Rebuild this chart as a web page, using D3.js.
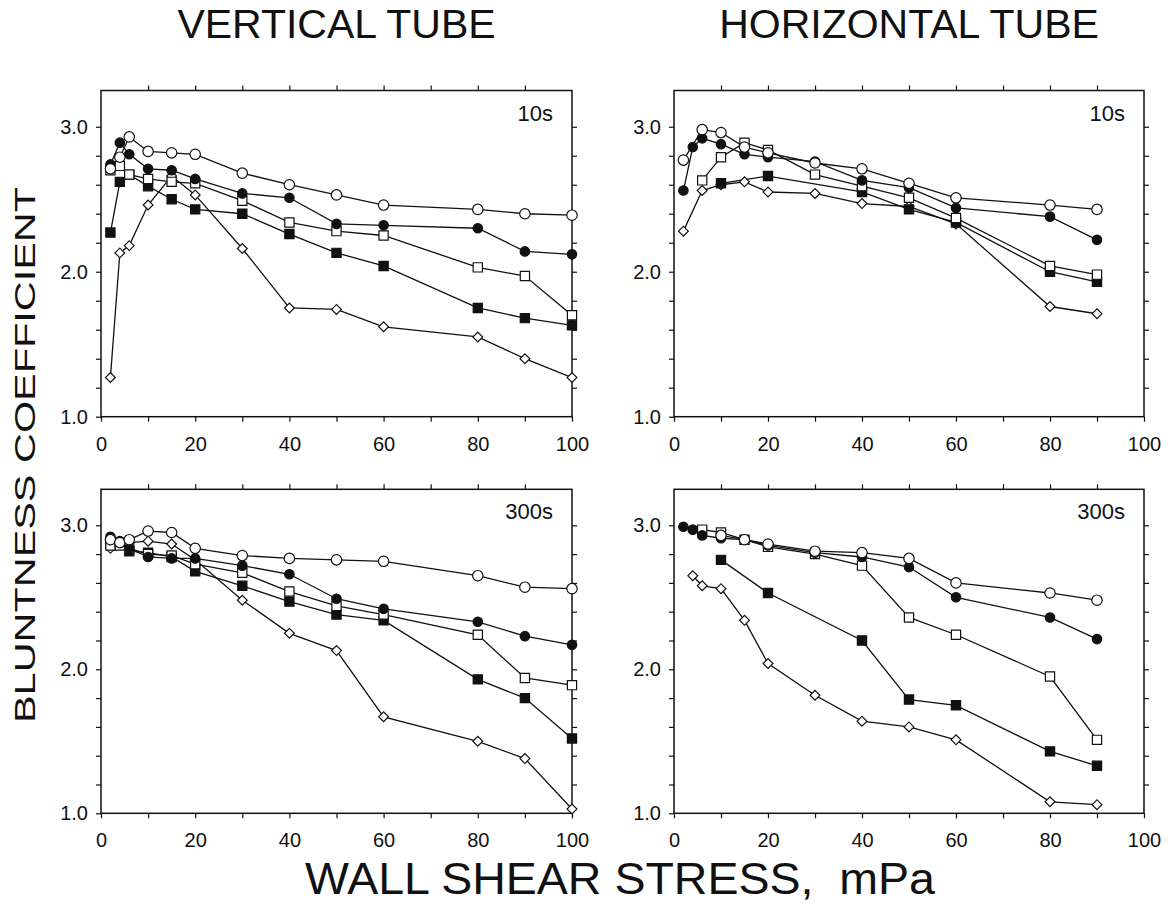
<!DOCTYPE html>
<html>
<head>
<meta charset="utf-8">
<script src="https://cdn.jsdelivr.net/npm/d3@7"></script>
<style>
  body { margin: 0; background: #fff; }
  text { font-family: "Liberation Sans", Arial, Helvetica, sans-serif; fill: #111; }
</style>
</head>
<body>
<div id="chart"></div>
<script>
// wall shear stress (mPa) where measurements were taken
const stress = [2, 4, 6, 10, 15, 20, 30, 40, 50, 60, 80, 90, 100]

// series names, one per marker
const seriesNames = ["openCircle", "filledCircle", "openSquare", "filledSquare", "openDiamond"]

// vertical tube, 10 s
const vert10OpenCircle   = [2.71, 2.79, 2.93, 2.83, 2.82, 2.81, 2.68, 2.60, 2.53, 2.46, 2.43, 2.40, 2.39]
const vert10FilledCircle = [2.74, 2.89, 2.81, 2.71, 2.70, 2.64, 2.54, 2.51, 2.33, 2.32, 2.30, 2.14, 2.12]
const vert10OpenSquare   = [2.70, 2.73, 2.67, 2.64, 2.62, 2.61, 2.49, 2.34, 2.28, 2.25, 2.03, 1.97, 1.70]
const vert10FilledSquare = [2.27, 2.62, 2.67, 2.59, 2.50, 2.43, 2.40, 2.26, 2.13, 2.04, 1.75, 1.68, 1.63]
const vert10OpenDiamond  = [1.27, 2.13, 2.18, 2.46, 2.66, 2.53, 2.16, 1.75, 1.74, 1.62, 1.55, 1.40, 1.27]

// horizontal tube, 10 s (null = no point there)
const horiz10OpenCircle   = [2.77, null, 2.98, 2.96, 2.86, 2.82, 2.75, 2.71, 2.61, 2.51, 2.46, 2.43, null]
const horiz10FilledCircle = [2.56, 2.86, 2.92, 2.88, 2.81, 2.79, 2.76, 2.63, 2.58, 2.44, 2.38, 2.22, null]
const horiz10OpenSquare   = [null, null, 2.63, 2.79, 2.89, 2.84, 2.67, 2.59, 2.51, 2.37, 2.04, 1.98, null]
const horiz10FilledSquare = [null, null, null, 2.61, null, 2.66, null, 2.55, 2.43, 2.34, 2.00, 1.93, null]
const horiz10OpenDiamond  = [2.28, null, 2.56, 2.60, 2.62, 2.55, 2.54, 2.47, 2.45, 2.33, 1.76, 1.71, null]

// vertical tube, 300 s
const vert300OpenCircle   = [2.90, 2.88, 2.90, 2.96, 2.95, 2.84, 2.79, 2.77, 2.76, 2.75, 2.65, 2.57, 2.56]
const vert300FilledCircle = [2.92, 2.89, 2.84, 2.78, 2.77, 2.77, 2.72, 2.66, 2.49, 2.42, 2.33, 2.23, 2.17]
const vert300OpenSquare   = [2.86, 2.86, 2.84, 2.80, 2.79, 2.73, 2.67, 2.54, 2.44, 2.38, 2.24, 1.94, 1.89]
const vert300FilledSquare = [2.88, 2.87, 2.82, 2.81, 2.78, 2.68, 2.58, 2.47, 2.38, 2.34, 1.93, 1.80, 1.52]
const vert300OpenDiamond  = [2.84, 2.88, 2.88, 2.89, 2.87, 2.76, 2.48, 2.25, 2.13, 1.67, 1.50, 1.38, 1.03]

// horizontal tube, 300 s
const horiz300OpenCircle   = [null, null, null, 2.93, 2.90, 2.87, 2.82, 2.81, 2.77, 2.60, 2.53, 2.48, null]
const horiz300FilledCircle = [2.99, 2.97, 2.93, 2.91, 2.90, 2.86, 2.81, 2.78, 2.71, 2.50, 2.36, 2.21, null]
const horiz300OpenSquare   = [null, null, 2.97, 2.95, 2.90, 2.85, 2.80, 2.72, 2.36, 2.24, 1.95, 1.51, null]
const horiz300FilledSquare = [null, null, null, 2.76, null, 2.53, null, 2.20, 1.79, 1.75, 1.43, 1.33, null]
const horiz300OpenDiamond  = [null, 2.65, 2.58, 2.56, 2.34, 2.04, 1.82, 1.64, 1.60, 1.51, 1.08, 1.06, null]

// tick values
const xTickValues = [0, 10, 20, 30, 40, 50, 60, 70, 80, 90, 100]
const xTickLabels = [0, 20, 40, 60, 80, 100]
const yTickValues = [1.0, 1.2, 1.4, 1.6, 1.8, 2.0, 2.2, 2.4, 2.6, 2.8, 3.0]
const yTickLabels = [1.0, 2.0, 3.0]

// how every marker looks
const markerStyle = {
  openCircle:   { type: d3.symbolCircle, size: 85, fill: "white", rotate: 0 },
  filledCircle: { type: d3.symbolCircle, size: 70, fill: "#111", rotate: 0 },
  openSquare:   { type: d3.symbolSquare, size: 85, fill: "white", rotate: 0 },
  filledSquare: { type: d3.symbolSquare, size: 85, fill: "#111", rotate: 0 },
  openDiamond:  { type: d3.symbolSquare, size: 48, fill: "white", rotate: 45 }
}

const width = 1174
const height = 905

const svg = d3.select("#chart")
  .append("svg")
  .attr("width", width)
  .attr("height", height)

const xLeft = d3.scaleLinear().domain([0, 100]).range([101, 572])
const xRight = d3.scaleLinear().domain([0, 100]).range([674, 1144])
const yTop = d3.scaleLinear().domain([1, 3.25]).range([416.7, 90.5])
const yBottom = d3.scaleLinear().domain([1, 3.25]).range([813.3, 489.3])

// zip the stress values with one series, drop the gaps
function toPoints(values) {
  return stress
    .map((s, i) => ({ x: s, y: values[i] }))
    .filter(d => d.y !== null)
}

const panels = [
  { x: xLeft, y: yTop, label: "10s",
    series: [vert10OpenCircle, vert10FilledCircle, vert10OpenSquare, vert10FilledSquare, vert10OpenDiamond] },
  { x: xRight, y: yTop, label: "10s",
    series: [horiz10OpenCircle, horiz10FilledCircle, horiz10OpenSquare, horiz10FilledSquare, horiz10OpenDiamond] },
  { x: xLeft, y: yBottom, label: "300s",
    series: [vert300OpenCircle, vert300FilledCircle, vert300OpenSquare, vert300FilledSquare, vert300OpenDiamond] },
  { x: xRight, y: yBottom, label: "300s",
    series: [horiz300OpenCircle, horiz300FilledCircle, horiz300OpenSquare, horiz300FilledSquare, horiz300OpenDiamond] }
]

panels.forEach(drawPanel)

function styleAxis(g) {
  g.select(".domain").remove()
  g.attr("font-size", 20).attr("font-family", null)
  g.selectAll(".tick line").attr("stroke", "#111").attr("stroke-width", 1.2)
}

function drawPanel(p) {
  const g = svg.append("g")
  const [x0, x1] = p.x.range()
  const [y0, y1] = p.y.range()

  // axes on all four sides, ticks point outward
  g.append("g")
    .attr("transform", "translate(0," + y0 + ")")
    .call(d3.axisBottom(p.x)
      .tickValues(xTickValues)
      .tickSize(5)
      .tickPadding(15)
      .tickFormat(d => xTickLabels.includes(d) ? d : ""))
    .call(styleAxis)

  g.append("g")
    .attr("transform", "translate(0," + y1 + ")")
    .call(d3.axisTop(p.x).tickValues(xTickValues.slice(1, -1)).tickSize(5).tickFormat(""))
    .call(styleAxis)

  g.append("g")
    .attr("transform", "translate(" + x0 + ",0)")
    .call(d3.axisLeft(p.y)
      .tickValues(yTickValues)
      .tickSize(5)
      .tickPadding(8)
      .tickFormat(d => yTickLabels.some(v => Math.abs(v - d) < 1e-9) ? d3.format(".1f")(d) : ""))
    .call(styleAxis)

  g.append("g")
    .attr("transform", "translate(" + x1 + ",0)")
    .call(d3.axisRight(p.y).tickValues(yTickValues.slice(1)).tickSize(5).tickFormat(""))
    .call(styleAxis)

  // the box
  g.append("rect")
    .attr("x", x0)
    .attr("y", y1)
    .attr("width", x1 - x0)
    .attr("height", y0 - y1)
    .attr("fill", "none")
    .attr("stroke", "#111")
    .attr("stroke-width", 1.5)

  // time label in the corner
  g.append("text")
    .attr("x", x1 - 19)
    .attr("y", y1 + 30)
    .attr("text-anchor", "end")
    .attr("font-size", 22)
    .text(p.label)

  const line = d3.line()
    .x(d => p.x(d.x))
    .y(d => p.y(d.y))

  // lines first so the markers sit on top
  p.series.forEach(values => {
    g.append("path")
      .datum(toPoints(values))
      .attr("d", line)
      .attr("fill", "none")
      .attr("stroke", "#111")
      .attr("stroke-width", 1.3)
  })

  // draw from the bottom series up
  p.series.slice().reverse().forEach((values, i) => {
    const name = seriesNames[seriesNames.length - 1 - i]
    const style = markerStyle[name]
    const symbol = d3.symbol().type(style.type).size(style.size)
    g.selectAll(null)
      .data(toPoints(values))
      .enter()
      .append("path")
      .attr("d", symbol)
      .attr("transform", d => "translate(" + p.x(d.x) + "," + p.y(d.y) + ") rotate(" + style.rotate + ")")
      .attr("fill", style.fill)
      .attr("stroke", "#111")
      .attr("stroke-width", 1.2)
  })
}

// column titles
svg.append("text")
  .attr("x", (xLeft.range()[0] + xLeft.range()[1]) / 2)
  .attr("y", 38)
  .attr("text-anchor", "middle")
  .attr("font-size", 41)
  .text("VERTICAL TUBE")

svg.append("text")
  .attr("x", (xRight.range()[0] + xRight.range()[1]) / 2)
  .attr("y", 38)
  .attr("text-anchor", "middle")
  .attr("font-size", 41)
  .text("HORIZONTAL TUBE")

// shared axis titles
svg.append("text")
  .attr("x", 620)
  .attr("y", 894)
  .attr("text-anchor", "middle")
  .attr("font-size", 44)
  .attr("textLength", 630)
  .attr("lengthAdjust", "spacingAndGlyphs")
  .style("white-space", "pre")
  .text("WALL SHEAR STRESS,  mPa")

svg.append("text")
  .attr("transform", "translate(35,455) rotate(-90)")
  .attr("text-anchor", "middle")
  .attr("font-size", 30)
  .attr("textLength", 536)
  .attr("lengthAdjust", "spacingAndGlyphs")
  .text("BLUNTNESS COEFFICIENT")
</script>
</body>
</html>
